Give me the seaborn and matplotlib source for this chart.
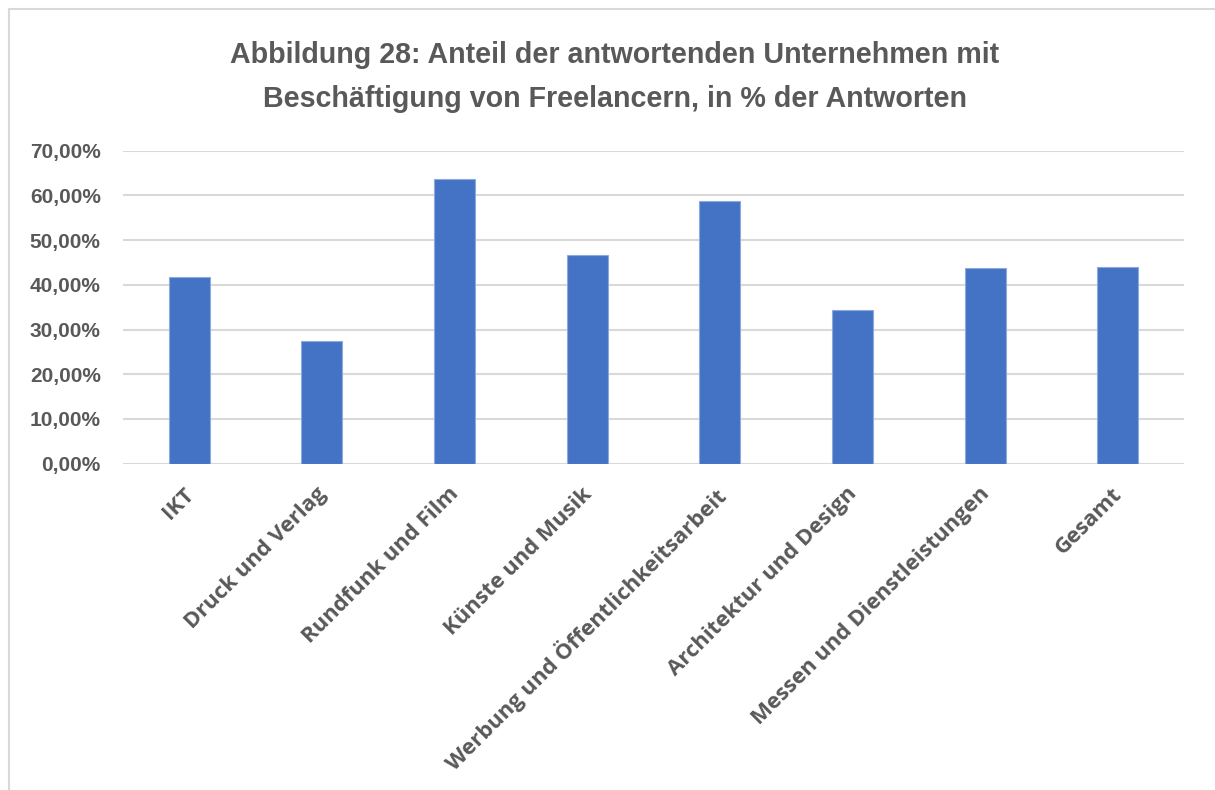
import matplotlib
matplotlib.use("Agg")
import matplotlib.pyplot as plt
import matplotlib.transforms as mtransforms
from matplotlib.lines import Line2D
import seaborn as sns
import pandas as pd

categories = ["IKT", "Druck und Verlag", "Rundfunk und Film", "Künste und Musik",
              "Werbung und Öffentlichkeitsarbeit", "Architektur und Design",
              "Messen und Dienstleistungen", "Gesamt"]
values = [41.8, 27.4, 63.6, 46.7, 58.7, 34.4, 43.8, 44.0]
yticks = [0, 10, 20, 30, 40, 50, 60, 70]
ytick_labels = ["0,00%", "10,00%", "20,00%", "30,00%", "40,00%", "50,00%", "60,00%", "70,00%"]
title = "Abbildung 28: Anteil der antwortenden Unternehmen mit\nBeschäftigung von Freelancern, in % der Antworten"

df = pd.DataFrame({"cat": categories, "val": values})

sns.set_theme(style="white")
TEXT = "#595959"
W, H = 1215, 790
fig = plt.figure(figsize=(W / 100, H / 100), dpi=100)
ax = fig.add_axes([123 / W, 1 - 463.7 / H, (1184 - 123) / W, (463.7 - 150.7) / H])

sns.barplot(data=df, x="cat", y="val", color="#4472C4", saturation=1,
            width=0.31, ax=ax, edgecolor="#8eaadb", linewidth=0.8, zorder=3)

ax.set_ylim(0, 70)
ax.set_xlim(-0.5, len(categories) - 0.5)
ax.set_yticks(yticks)
ax.set_yticklabels(ytick_labels, fontsize=15, fontweight="bold", color=TEXT,
                   family=["Liberation Sans", "DejaVu Sans"])
ax.grid(axis="y", color="#D9D9D9", linewidth=1.5, zorder=0)
ax.set_axisbelow(True)
for s in ax.spines.values():
    s.set_visible(False)
ax.tick_params(axis="both", length=0)
ax.tick_params(axis="y", pad=16)
ax.set_xlabel("")
ax.set_ylabel("")

ax.set_xticks(range(len(categories)))
ax.set_xticklabels(categories, rotation=45, ha="right", va="top", rotation_mode="anchor",
                   fontsize=15.9, fontweight="bold", color=TEXT,
                   family=["Open Sans", "DejaVu Sans"])
offset = mtransforms.ScaledTranslation(-6 / 100, -15 / 100, fig.dpi_scale_trans)
for lbl in ax.get_xticklabels():
    lbl.set_transform(lbl.get_transform() + offset)

fig.text(615 / W, 1 - 77 / H, title, ha="center", va="center", fontsize=20.6,
         fontweight="bold", color=TEXT, linespacing=1.75,
         family=["Liberation Sans Narrow", "Liberation Sans", "DejaVu Sans"])

# chart border
fig.add_artist(Line2D([9 / W, 9 / W], [0, 1 - 9 / H], transform=fig.transFigure,
                      color="#D9D9D9", linewidth=1.5))
fig.add_artist(Line2D([9 / W, 1], [1 - 9 / H, 1 - 9 / H], transform=fig.transFigure,
                      color="#D9D9D9", linewidth=1.5))

fig.savefig("out.png", dpi=100, facecolor="white")
